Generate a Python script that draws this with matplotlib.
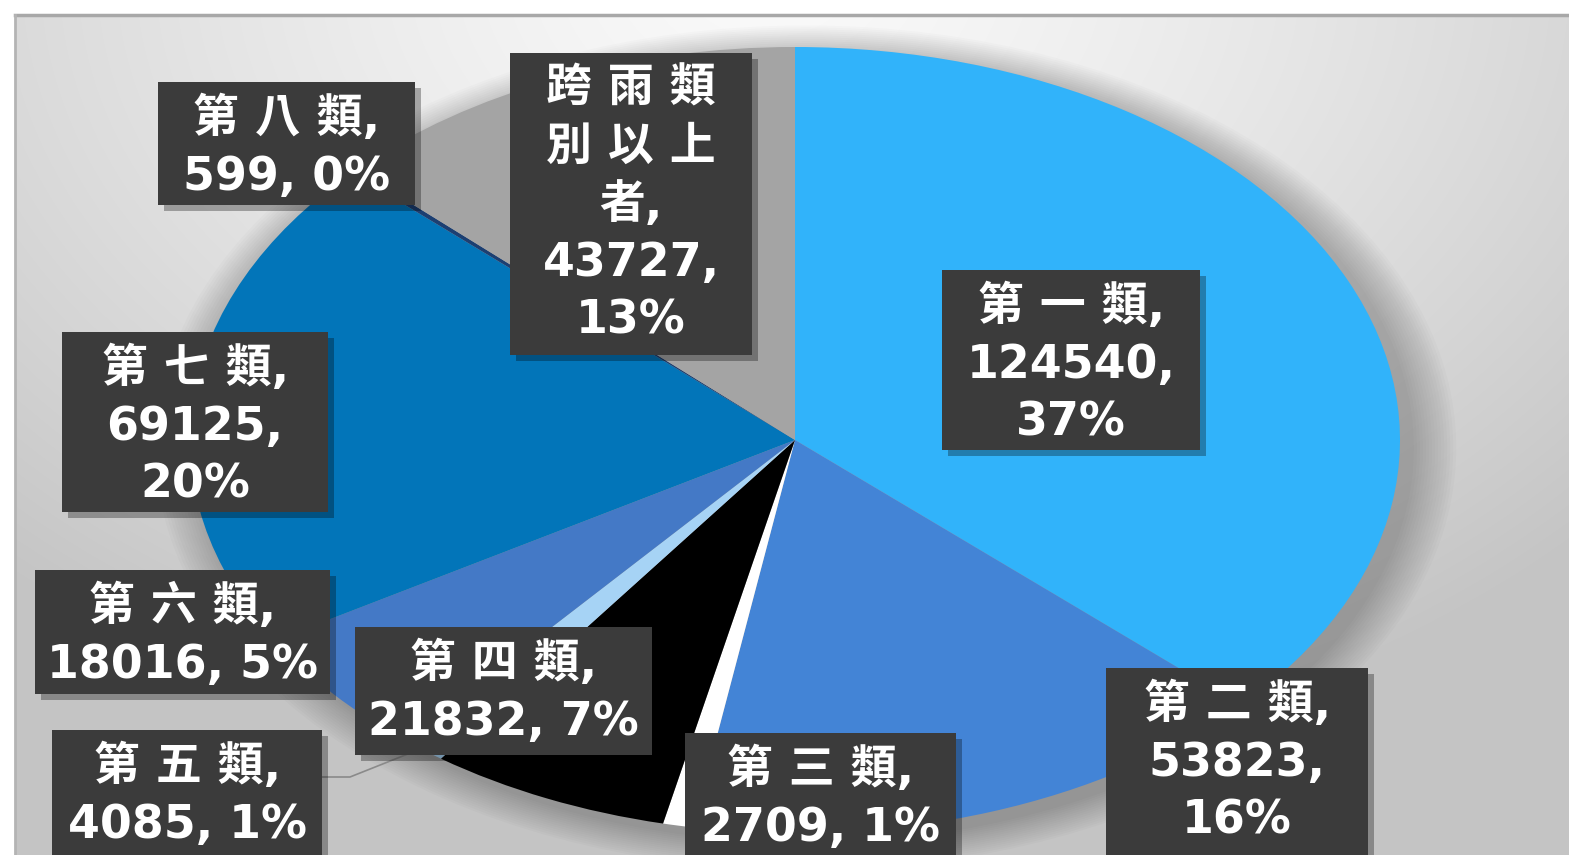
import matplotlib
matplotlib.use("Agg")
import matplotlib.pyplot as plt
import matplotlib.patheffects as pe
from matplotlib.patches import Rectangle, Ellipse
import numpy as np

plt.rcParams['font.family'] = ['DejaVu Sans', 'Noto Sans CJK TC']

# data
categories = ["第一類", "第二類", "第三類", "第四類", "第五類",
              "第六類", "第七類", "第八類", "跨雨類別以上者"]
values = [124540, 53823, 2709, 21832, 4085, 18016, 69125, 599, 43727]
pct_labels = ["37%", "16%", "1%", "7%", "1%", "5%", "20%", "0%", "13%"]
colors = ["#31b3fa", "#4384d6", "#ffffff", "#000000", "#a6d3f5",
          "#4479c6", "#0275b9", "#1c3f72", "#a4a4a4"]

# layout (pixels, y from top)
W, H = 1569, 855
cx, cy, rx, ry = 795, 440, 605, 393
boxes = [(942, 270, 1200, 450), (1106, 668, 1368, 875), (685, 733, 956, 875),
         (355, 627, 652, 755), (52, 730, 322, 875), (35, 570, 330, 694),
         (62, 332, 328, 512), (158, 82, 415, 205), (510, 53, 752, 355)]
same_line = [False, False, True, True, True, True, False, True, False]

fig = plt.figure(figsize=(W / 100, H / 100), dpi=100)

# background with frame and soft gradient
bg = fig.add_axes([0, 0, 1, 1])
bg.set_xlim(0, W)
bg.set_ylim(H, 0)
bg.axis("off")
yy, xx = np.mgrid[0:H, 0:W]
d = np.sqrt(((xx - 760) / 1150) ** 2 + ((yy + 40) / 820) ** 2)
g = 0.98 - 0.21 * np.clip(d, 0, 1) ** 1.3
bg.imshow(np.dstack([g, g, g]), extent=[15, W, H, 15], aspect="auto", zorder=1)
bg.plot([15, W], [15, 15], color="#a8a8a8", lw=2.5, zorder=2)
bg.plot([15, 15], [15, H], color="#b4b4b4", lw=2.0, zorder=2)

# pie (stretched to an ellipse like the reference)
pax = fig.add_axes([(cx - rx) / W, (H - cy - ry) / H, 2 * rx / W, 2 * ry / H])
for k in range(1, 16):
    pax.add_patch(Ellipse((0.018, -0.02), 2 * (1 + 0.005 * k), 2 * (1 + 0.005 * k),
                          color="black", alpha=0.016, lw=0, zorder=0, clip_on=False))
pax.pie(values, colors=colors, startangle=90, counterclock=False,
        wedgeprops=dict(linewidth=0))
pax.set_aspect("auto")
pax.set_xlim(-1, 1)
pax.set_ylim(-1, 1)
pax.axis("off")

# overlay with labels
ov = fig.add_axes([0, 0, 1, 1])
ov.set_xlim(0, W)
ov.set_ylim(H, 0)
ov.axis("off")
ov.patch.set_alpha(0)

# leader line for 第五類
total = sum(values)
start = sum(values[:4]) / total
mid = start + values[4] / total / 2
ang = np.deg2rad(90 - mid * 360)
ex, ey = cx + rx * 0.99 * np.cos(ang), cy - ry * 0.99 * np.sin(ang)
b5 = boxes[4]
ov.plot([b5[2], b5[2] + 28, ex], [777, 777, ey], color="#8a8a8a", lw=1.2, zorder=1)

for name, val, pct, (l, t, r, b), one in zip(categories, values, pct_labels, boxes, same_line):
    rect = Rectangle((l, t), r - l, b - t, facecolor="#3b3b3b", edgecolor="none", zorder=2)
    rect.set_path_effects([pe.withSimplePatchShadow(offset=(4, -4), shadow_rgbFace="black", alpha=0.3)])
    ov.add_patch(rect)
    name_lines = [" ".join(name[i:i + 3]) for i in range(0, len(name), 3)]
    name_lines[-1] += ","
    if one:
        lines = name_lines + [f"{val}, {pct}"]
    else:
        lines = name_lines + [f"{val},", pct]
    ov.text((l + r) / 2, t + 14, "\n".join(lines), ha="center", va="top",
            multialignment="center", color="white", fontsize=33, fontweight="bold",
            linespacing=1.36, zorder=3)

fig.savefig("out.png", dpi=100)
